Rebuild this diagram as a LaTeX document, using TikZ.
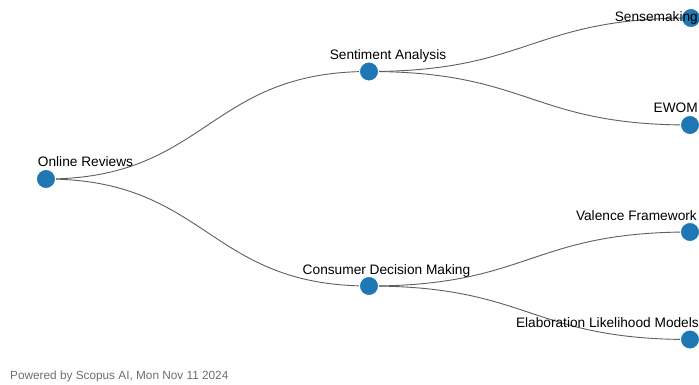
\documentclass[tikz,border=0pt]{standalone}
\usepackage{fontspec}
\setmainfont{Liberation Sans}
\definecolor{nodeblue}{RGB}{31,119,180}
\definecolor{linkgray}{RGB}{95,95,95}
\definecolor{footgray}{RGB}{110,110,110}
\begin{document}
\begin{tikzpicture}[x=1pt,y=-1pt,
  dot/.style={circle,fill=nodeblue,draw=white,line width=0.8pt,minimum size=19pt,inner sep=0pt},
  lbl/.style={font=\fontsize{13.7}{15}\selectfont,text=black,inner sep=0pt,anchor=base},
  leaflbl/.style={lbl,anchor=base east},
  link/.style={draw=linkgray,line width=0.9pt}]
  \useasboundingbox[fill=white] (0,0) rectangle (699,385);

  % tree positions
  \coordinate (r) at (46,179);
  \coordinate (sa) at (369,71.5);
  \coordinate (cd) at (369,286);
  \coordinate (s1) at (691,18);
  \coordinate (s2) at (690,125);
  \coordinate (c1) at (690,232);
  \coordinate (c2) at (690,339.5);

  % horizontal links
  \draw[link] (r) .. controls (207.5,179) and (207.5,71.5) .. (sa);
  \draw[link] (r) .. controls (207.5,179) and (207.5,286) .. (cd);
  \draw[link] (sa) .. controls (530,71.5) and (530,18) .. (s1);
  \draw[link] (sa) .. controls (530,71.5) and (530,125) .. (s2);
  \draw[link] (cd) .. controls (530,286) and (530,232) .. (c1);
  \draw[link] (cd) .. controls (530,286) and (530,339.5) .. (c2);

  % nodes
  \node[dot] (nr) at (r) {};
  \node[dot] (nsa) at (sa) {};
  \node[dot] (ncd) at (cd) {};
  \node[dot] (ns1) at (s1) {};
  \node[dot] (ns2) at (s2) {};
  \node[dot] (nc1) at (c1) {};
  \node[dot] (nc2) at (c2) {};

  % labels
  \node[lbl] (tr) at (85.5,167) {Online Reviews};
  \node[lbl] (tsa) at (388,59.5) {Sentiment Analysis};
  \node[lbl] (tcd) at (386.5,274) {Consumer Decision Making};
  \node[leaflbl] (ts1) at (698,21.5) {Sensemaking};
  \node[leaflbl] (ts2) at (698,113) {EWOM};
  \node[leaflbl] (tc1) at (697,220) {Valence Framework};
  \node[leaflbl] (tc2) at (699,327.5) {Elaboration Likelihood Models};

  \node[anchor=base west,inner sep=0pt,text=footgray,font=\fontsize{11.8}{13}\selectfont] (foot) at (10,379.5) {Powered by Scopus AI, Mon Nov 11 2024};
\end{tikzpicture}
\end{document}
